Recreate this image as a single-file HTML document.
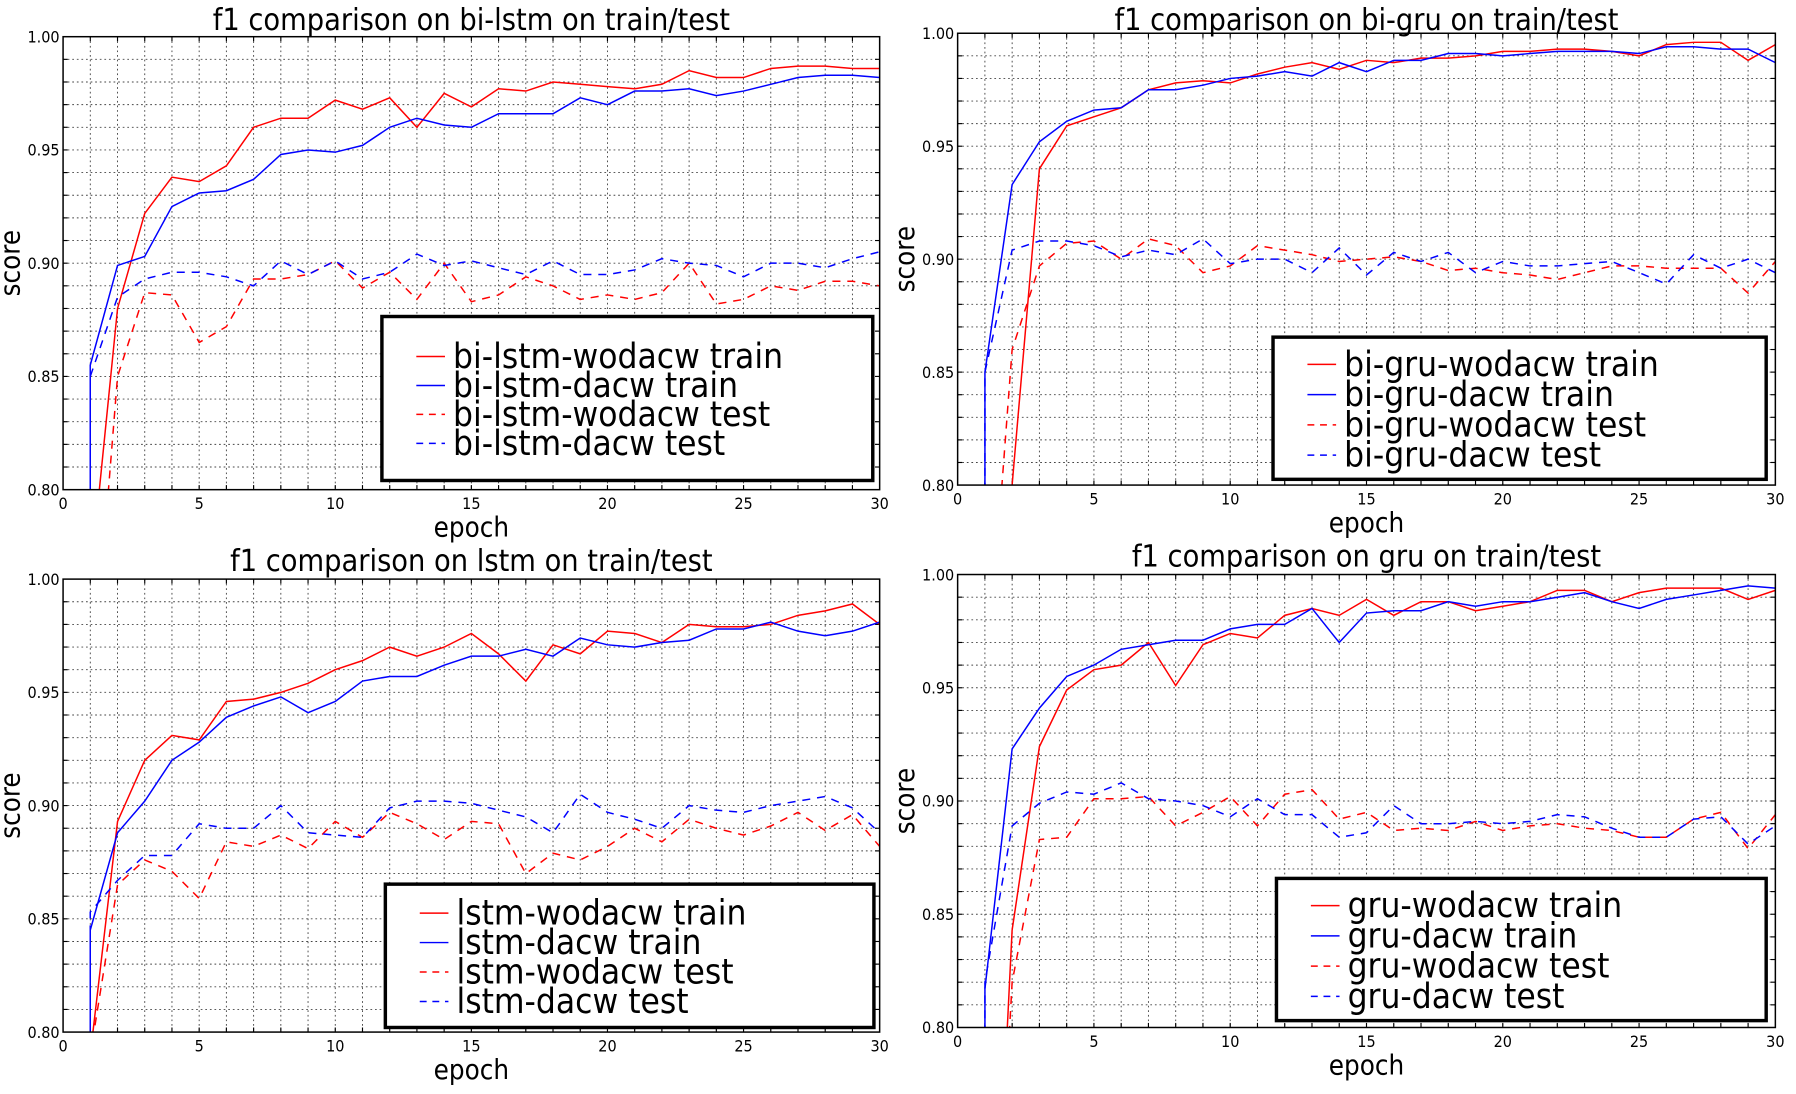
<!DOCTYPE html>
<html><head><meta charset="utf-8"><style>
html,body{margin:0;padding:0;background:#fff;overflow:hidden;width:1796px;height:1094px;}
svg{display:block;font-family:"DejaVu Sans Condensed","DejaVu Sans","Liberation Sans",sans-serif;}
</style></head><body>
<svg id="fig" width="1796" height="1094" viewBox="0 0 1566 954" preserveAspectRatio="none" xmlns="http://www.w3.org/2000/svg"></svg>
<script>
const epochs = Array.from({length:30},(_, i)=>i+1);
const xTicks = [0,5,10,15,20,25,30];
const yTicks = [0.80,0.85,0.90,0.95,1.00];

const biLstmWoTrain = [0.76,0.88,0.922,0.938,0.936,0.943,0.960,0.964,0.964,0.972,0.968,0.973,0.960,0.975,0.969,0.977,0.976,0.980,0.979,0.978,0.977,0.979,0.985,0.982,0.982,0.986,0.987,0.987,0.986,0.986];
const biLstmDTrain = [0.855,0.899,0.903,0.925,0.931,0.932,0.937,0.948,0.950,0.949,0.952,0.960,0.964,0.961,0.960,0.966,0.966,0.966,0.973,0.970,0.976,0.976,0.977,0.974,0.976,0.979,0.982,0.983,0.983,0.982];
const biLstmWoTest = [0.70,0.85,0.887,0.886,0.865,0.872,0.893,0.893,0.895,0.901,0.889,0.896,0.884,0.900,0.883,0.886,0.894,0.890,0.884,0.886,0.884,0.887,0.900,0.882,0.884,0.890,0.888,0.892,0.892,0.890];
const biLstmDTest = [0.85,0.885,0.893,0.896,0.896,0.894,0.890,0.901,0.895,0.901,0.893,0.896,0.904,0.899,0.901,0.898,0.895,0.901,0.895,0.895,0.897,0.902,0.900,0.899,0.894,0.900,0.900,0.898,0.902,0.905];

const biGruWoTrain = [0.60,0.80,0.940,0.959,0.963,0.967,0.975,0.978,0.979,0.978,0.982,0.985,0.987,0.984,0.988,0.987,0.989,0.989,0.990,0.992,0.992,0.993,0.993,0.992,0.990,0.995,0.996,0.996,0.988,0.995];
const biGruDTrain = [0.85,0.933,0.952,0.961,0.966,0.967,0.975,0.975,0.977,0.980,0.981,0.983,0.981,0.987,0.983,0.988,0.988,0.991,0.991,0.990,0.991,0.992,0.992,0.992,0.991,0.994,0.994,0.993,0.993,0.987];
const biGruWoTest = [0.70,0.86,0.897,0.907,0.908,0.900,0.909,0.906,0.894,0.897,0.906,0.904,0.902,0.899,0.900,0.901,0.899,0.895,0.896,0.894,0.893,0.891,0.894,0.897,0.897,0.896,0.896,0.896,0.885,0.899];
const biGruDTest = [0.85,0.904,0.908,0.908,0.906,0.901,0.904,0.902,0.909,0.898,0.900,0.900,0.894,0.905,0.893,0.903,0.899,0.903,0.894,0.899,0.897,0.897,0.898,0.899,0.894,0.889,0.902,0.896,0.900,0.894];

const lstmWoTrain = [0.79,0.893,0.920,0.931,0.929,0.946,0.947,0.950,0.954,0.960,0.964,0.970,0.966,0.970,0.976,0.967,0.955,0.971,0.967,0.977,0.976,0.972,0.980,0.979,0.979,0.980,0.984,0.986,0.989,0.980];
const lstmDTrain = [0.845,0.888,0.902,0.920,0.928,0.939,0.944,0.948,0.941,0.946,0.955,0.957,0.957,0.962,0.966,0.966,0.969,0.966,0.974,0.971,0.970,0.972,0.973,0.978,0.978,0.981,0.977,0.975,0.977,0.981];
const lstmWoTest = [0.79,0.865,0.876,0.871,0.859,0.884,0.882,0.887,0.881,0.893,0.886,0.897,0.892,0.885,0.893,0.892,0.870,0.879,0.876,0.882,0.890,0.884,0.894,0.890,0.887,0.891,0.897,0.889,0.896,0.882];
const lstmDTest = [0.853,0.867,0.878,0.878,0.892,0.890,0.890,0.900,0.888,0.887,0.886,0.899,0.902,0.902,0.901,0.898,0.895,0.888,0.905,0.897,0.894,0.890,0.900,0.898,0.897,0.900,0.902,0.904,0.899,0.888];

const gruWoTrain = [0.60,0.843,0.924,0.949,0.958,0.960,0.970,0.951,0.969,0.974,0.972,0.982,0.985,0.982,0.989,0.982,0.988,0.988,0.984,0.986,0.988,0.993,0.993,0.988,0.992,0.994,0.994,0.994,0.989,0.993];
const gruDTrain = [0.817,0.923,0.941,0.955,0.960,0.967,0.969,0.971,0.971,0.976,0.978,0.978,0.985,0.970,0.983,0.984,0.984,0.988,0.986,0.988,0.988,0.990,0.992,0.988,0.985,0.989,0.991,0.993,0.995,0.994];
const gruWoTest = [0.60,0.82,0.883,0.884,0.901,0.901,0.902,0.889,0.895,0.902,0.889,0.903,0.905,0.892,0.895,0.887,0.888,0.887,0.891,0.887,0.889,0.890,0.888,0.887,0.884,0.884,0.892,0.895,0.879,0.894];
const gruDTest = [0.82,0.889,0.899,0.904,0.903,0.908,0.901,0.900,0.898,0.893,0.901,0.894,0.894,0.884,0.886,0.898,0.890,0.890,0.891,0.890,0.891,0.894,0.893,0.888,0.884,0.884,0.892,0.893,0.881,0.889];

const NS="http://www.w3.org/2000/svg";
const svg=document.getElementById('fig');
function el(tag,attrs,parent){const e=document.createElementNS(NS,tag);for(const k in attrs)e.setAttribute(k,attrs[k]);(parent||svg).appendChild(e);return e;}

const panels=[
 {id:'bi-lstm',title:'f1 comparison on bi-lstm on train/test',x0:55,x1:767,yT:32,yB:427,titleY:26,lg:[333,276,428,143],series:[biLstmWoTrain,biLstmDTrain,biLstmWoTest,biLstmDTest],names:['bi-lstm-wodacw train','bi-lstm-dacw train','bi-lstm-wodacw test','bi-lstm-dacw test'],lgPad:16},
 {id:'bi-gru',title:'f1 comparison on bi-gru on train/test',x0:835,x1:1548,yT:29,yB:423,titleY:26,lg:[1110,294,430,124],series:[biGruWoTrain,biGruDTrain,biGruWoTest,biGruDTest],names:['bi-gru-wodacw train','bi-gru-dacw train','bi-gru-wodacw test','bi-gru-dacw test'],lgPad:4},
 {id:'lstm',title:'f1 comparison on lstm on train/test',x0:55,x1:767,yT:505,yB:900,titleY:498,lg:[336,771,426,125],series:[lstmWoTrain,lstmDTrain,lstmWoTest,lstmDTest],names:['lstm-wodacw train','lstm-dacw train','lstm-wodacw test','lstm-dacw test'],lgPad:6},
 {id:'gru',title:'f1 comparison on gru on train/test',x0:835,x1:1548,yT:501,yB:896,titleY:494,lg:[1113,766,427,124],series:[gruWoTrain,gruDTrain,gruWoTest,gruDTest],names:['gru-wodacw train','gru-dacw train','gru-wodacw test','gru-dacw test'],lgPad:4}
];
const colors=['#ff0000','#0000ff','#ff0000','#0000ff'];
const dashes=['none','none','7,6','7,6'];

panels.forEach((p,pi)=>{
 const g=el('g',{});
 
 
 const X=v=>p.x0+(v-0)/30*(p.x1-p.x0);
 const Y=v=>p.yB-(v-0.8)/0.2*(p.yB-p.yT);
 const cp=el('clipPath',{id:'cp'+pi},g);
 el('rect',{x:p.x0,y:p.yT,width:p.x1-p.x0,height:p.yB-p.yT},cp);
 const grid=el('g',{stroke:'#444','stroke-width':0.8,'stroke-dasharray':'1.5,2.5'},g);
 
 
 for(let e=1;e<30;e++) el('line',{x1:X(e),x2:X(e),y1:p.yT,y2:p.yB},grid);
 for(let k=1;k<20;k++){const v=0.8+k*0.01;el('line',{x1:p.x0,x2:p.x1,y1:Y(v),y2:Y(v)},grid);}
 const tk=el('g',{stroke:'#000','stroke-width':1},g);
 for(let e=1;e<30;e++){el('line',{x1:X(e),x2:X(e),y1:p.yB,y2:p.yB-4},tk);el('line',{x1:X(e),x2:X(e),y1:p.yT,y2:p.yT+4},tk);}
 for(let k=1;k<20;k++){const v=0.8+k*0.01;el('line',{x1:p.x0,x2:p.x0+4,y1:Y(v),y2:Y(v)},tk);el('line',{x1:p.x1,x2:p.x1-4,y1:Y(v),y2:Y(v)},tk);}
 const sg=el('g',{'clip-path':'url(#cp'+pi+')'},g);
 p.series.forEach((s,si)=>{
  let pts=s.map((v,i)=>X(epochs[i]).toFixed(1)+','+Y(v).toFixed(1)).join(' ');
  if(s[0]>0.8) pts=X(epochs[0]).toFixed(1)+','+(p.yB+5)+' '+pts;
  const pl=el('polyline',{points:pts,fill:'none',stroke:colors[si],'stroke-width':1.3,'stroke-dasharray':dashes[si]},sg);
  
  
 });
 const fr=el('rect',{x:p.x0,y:p.yT,width:p.x1-p.x0,height:p.yB-p.yT,fill:'none',stroke:'#000','stroke-width':1.3},g);
 
 
 xTicks.forEach(t=>{const tx=el('text',{x:X(t),y:p.yB+17,'font-size':14,'text-anchor':'middle'},g);tx.textContent=String(t);
  });
 yTicks.forEach(t=>{const tx=el('text',{x:p.x0-3,y:Y(t)+5,'font-size':14,'text-anchor':'end'},g);tx.textContent=t.toFixed(2);
  });
 const tt=el('text',{x:(p.x0+p.x1)/2,y:p.titleY,'font-size':26.5,'text-anchor':'middle'},g);tt.textContent=p.title;
 
 const xl=el('text',{x:(p.x0+p.x1)/2,y:p.yB+41,'font-size':24,'text-anchor':'middle'},g);xl.textContent='epoch';
 
 const cy=(p.yT+p.yB)/2;
 const yl=el('text',{x:p.x0-38,y:cy,'font-size':24,'text-anchor':'middle',transform:'rotate(-90 '+(p.x0-38)+' '+cy+')'},g);yl.textContent='score';
 
 const [lx,ly,lw,lh]=p.lg;
 const lgG=el('g',{},g);
 
 
 el('rect',{x:lx,y:ly,width:lw,height:lh,fill:'#fff',stroke:'#000','stroke-width':3},lgG);
 const step=(lh-2*p.lgPad)/4.4;
 p.names.forEach((n,i)=>{
  const yy=ly+p.lgPad+step*(i+0.75);
  const ln=el('line',{x1:lx+30,x2:lx+55,y1:yy,y2:yy,stroke:colors[i],'stroke-width':1.3,'stroke-dasharray':dashes[i]==='none'?'none':'6,5'},lgG);
  
  const t=el('text',{x:lx+62,y:yy+10,'font-size':30.5},lgG);t.textContent=n;
  
 });
});
</script>
</body></html>
